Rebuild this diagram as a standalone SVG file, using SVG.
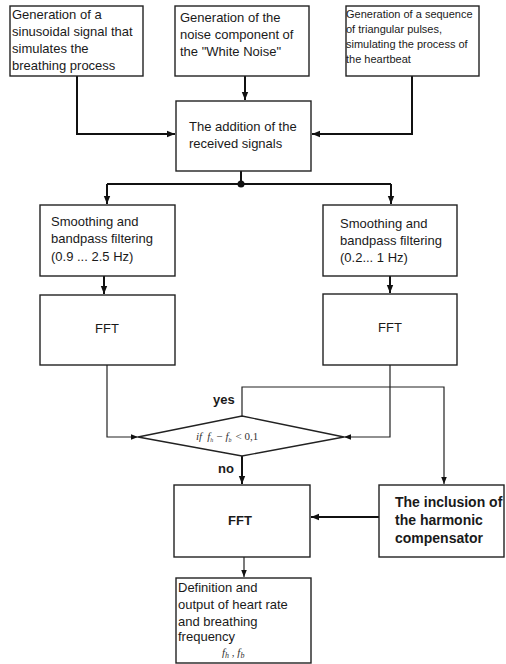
<svg xmlns="http://www.w3.org/2000/svg" width="506" height="664" viewBox="0 0 506 664">
<style>
.box{fill:#fff;stroke:#222;stroke-width:1.4}
.t{font-family:"Liberation Sans",Arial,sans-serif;font-size:13px;fill:#1a1a1a}
.s{font-size:11px}
.b{font-weight:bold;font-size:14px}
.m{font-family:"Liberation Serif","Times New Roman",serif;font-style:italic;font-size:11px;fill:#333}
.c{fill:none;stroke:#111;stroke-width:2}
.c1{fill:none;stroke:#222;stroke-width:1.2}
</style>
<defs>
<marker id="a" viewBox="0 0 10 10" refX="10" refY="5" markerWidth="4" markerHeight="4" orient="auto" markerUnits="strokeWidth">
<path d="M0,1 L10,5 L0,9 Z" fill="#111"/>
</marker>
<marker id="a1" viewBox="0 0 10 10" refX="10" refY="5" markerWidth="6" markerHeight="6" orient="auto" markerUnits="strokeWidth">
<path d="M0,1 L10,5 L0,9 Z" fill="#111"/>
</marker>
</defs>
<g id="connectors">
<path class="c" d="M77,76 V134 H175" marker-end="url(#a)"/>
<path class="c" d="M245,76 V100" marker-end="url(#a)"/>
<path class="c" d="M412,76 V134 H312" marker-end="url(#a)"/>
<path class="c" d="M241,171 V184"/>
<path class="c" d="M107,184 H391"/>
<path class="c" d="M107,184 V204" marker-end="url(#a)"/>
<path class="c" d="M391,184 V204" marker-end="url(#a)"/>
<circle cx="241" cy="184" r="3.5" fill="#111"/>
<path class="c" d="M104,276 V294" marker-end="url(#a)"/>
<path class="c" d="M390,276 V293" marker-end="url(#a)"/>
<path class="c1" d="M107,365 V437 H138" marker-end="url(#a1)"/>
<path class="c1" d="M390,365 V437 H344" marker-end="url(#a1)"/>
<path class="c1" d="M242,416 V387 H444 V484" marker-end="url(#a1)"/>
<path class="c" d="M242,456 V484" marker-end="url(#a)"/>
<path class="c" d="M379,517 H311" marker-end="url(#a)"/>
<path class="c1" d="M244,557 V577" marker-end="url(#a1)"/>
</g>
<g id="gen-sin">
<rect class="box" x="10" y="6" width="133" height="70"/>
<text class="t" x="12" y="19">Generation of a</text>
<text class="t" x="12" y="36">sinusoidal signal that</text>
<text class="t" x="12" y="53">simulates the</text>
<text class="t" x="12" y="70">breathing process</text>
</g>
<g id="gen-noise">
<rect class="box" x="175" y="6" width="134" height="70"/>
<text class="t" x="180" y="22">Generation of the</text>
<text class="t" x="180" y="39">noise component of</text>
<text class="t" x="180" y="56">the "White Noise"</text>
</g>
<g id="gen-heart">
<rect class="box" x="346" y="6" width="133" height="70"/>
<text class="t s" x="346" y="18">Generation of a sequence</text>
<text class="t s" x="346" y="33">of triangular pulses,</text>
<text class="t s" x="346" y="48">simulating the process of</text>
<text class="t s" x="346" y="63">the heartbeat</text>
</g>
<g id="addition">
<rect class="box" x="176" y="101" width="135" height="70"/>
<text class="t" x="189" y="131">The addition of the</text>
<text class="t" x="189" y="148">received signals</text>
</g>
<g id="filter-left">
<rect class="box" x="40" y="205" width="135" height="71"/>
<text class="t" x="51" y="226">Smoothing and</text>
<text class="t" x="51" y="243">bandpass filtering</text>
<text class="t" x="51" y="261">(0.9 ... 2.5 Hz)</text>
</g>
<g id="filter-right">
<rect class="box" x="323" y="205" width="134" height="71"/>
<text class="t" x="340" y="228">Smoothing and</text>
<text class="t" x="340" y="245">bandpass filtering</text>
<text class="t" x="340" y="262">(0.2... 1 Hz)</text>
</g>
<g id="fft-left">
<rect class="box" x="40" y="295" width="135" height="70"/>
<text class="t" x="107" y="333" text-anchor="middle" font-size="12">FFT</text>
</g>
<g id="fft-right">
<rect class="box" x="323" y="294" width="134" height="71"/>
<text class="t" x="390" y="332" text-anchor="middle" font-size="12">FFT</text>
</g>
<g id="decision">
<polygon class="box" points="242,416 344,437 242,456 138,437"/>
<text class="m" x="196" y="440">if<tspan dx="5">f</tspan><tspan font-size="6" dy="2">h</tspan><tspan dy="-2" dx="3" font-style="normal">−</tspan><tspan dx="3">f</tspan><tspan font-size="6" dy="2">b</tspan><tspan dy="-2" dx="4" font-style="normal">&lt; 0,1</tspan></text>
<text class="t" x="213" y="404" font-weight="bold" font-size="13">yes</text>
<text class="t" x="218" y="473" font-weight="bold" font-size="13">no</text>
</g>
<g id="fft-bottom">
<rect class="box" x="174" y="485" width="136" height="72"/>
<text class="t" x="240" y="525" text-anchor="middle" font-weight="bold" font-size="12">FFT</text>
</g>
<g id="harmonic">
<rect class="box" x="379" y="485" width="125" height="72"/>
<text class="t b" x="395" y="507">The inclusion of</text>
<text class="t b" x="395" y="525">the harmonic</text>
<text class="t b" x="395" y="543">compensator</text>
</g>
<g id="output">
<rect class="box" x="176" y="578" width="135" height="85"/>
<text class="t" x="178" y="592">Definition and</text>
<text class="t" x="178" y="609">output of heart rate</text>
<text class="t" x="178" y="626">and breathing</text>
<text class="t" x="178" y="641">frequency</text>
<text class="m" x="222" y="656" font-size="13">f<tspan font-size="8" dy="2">h</tspan><tspan dy="-2" font-style="normal"> , </tspan>f<tspan font-size="8" dy="2">b</tspan></text>
</g>
</svg>
